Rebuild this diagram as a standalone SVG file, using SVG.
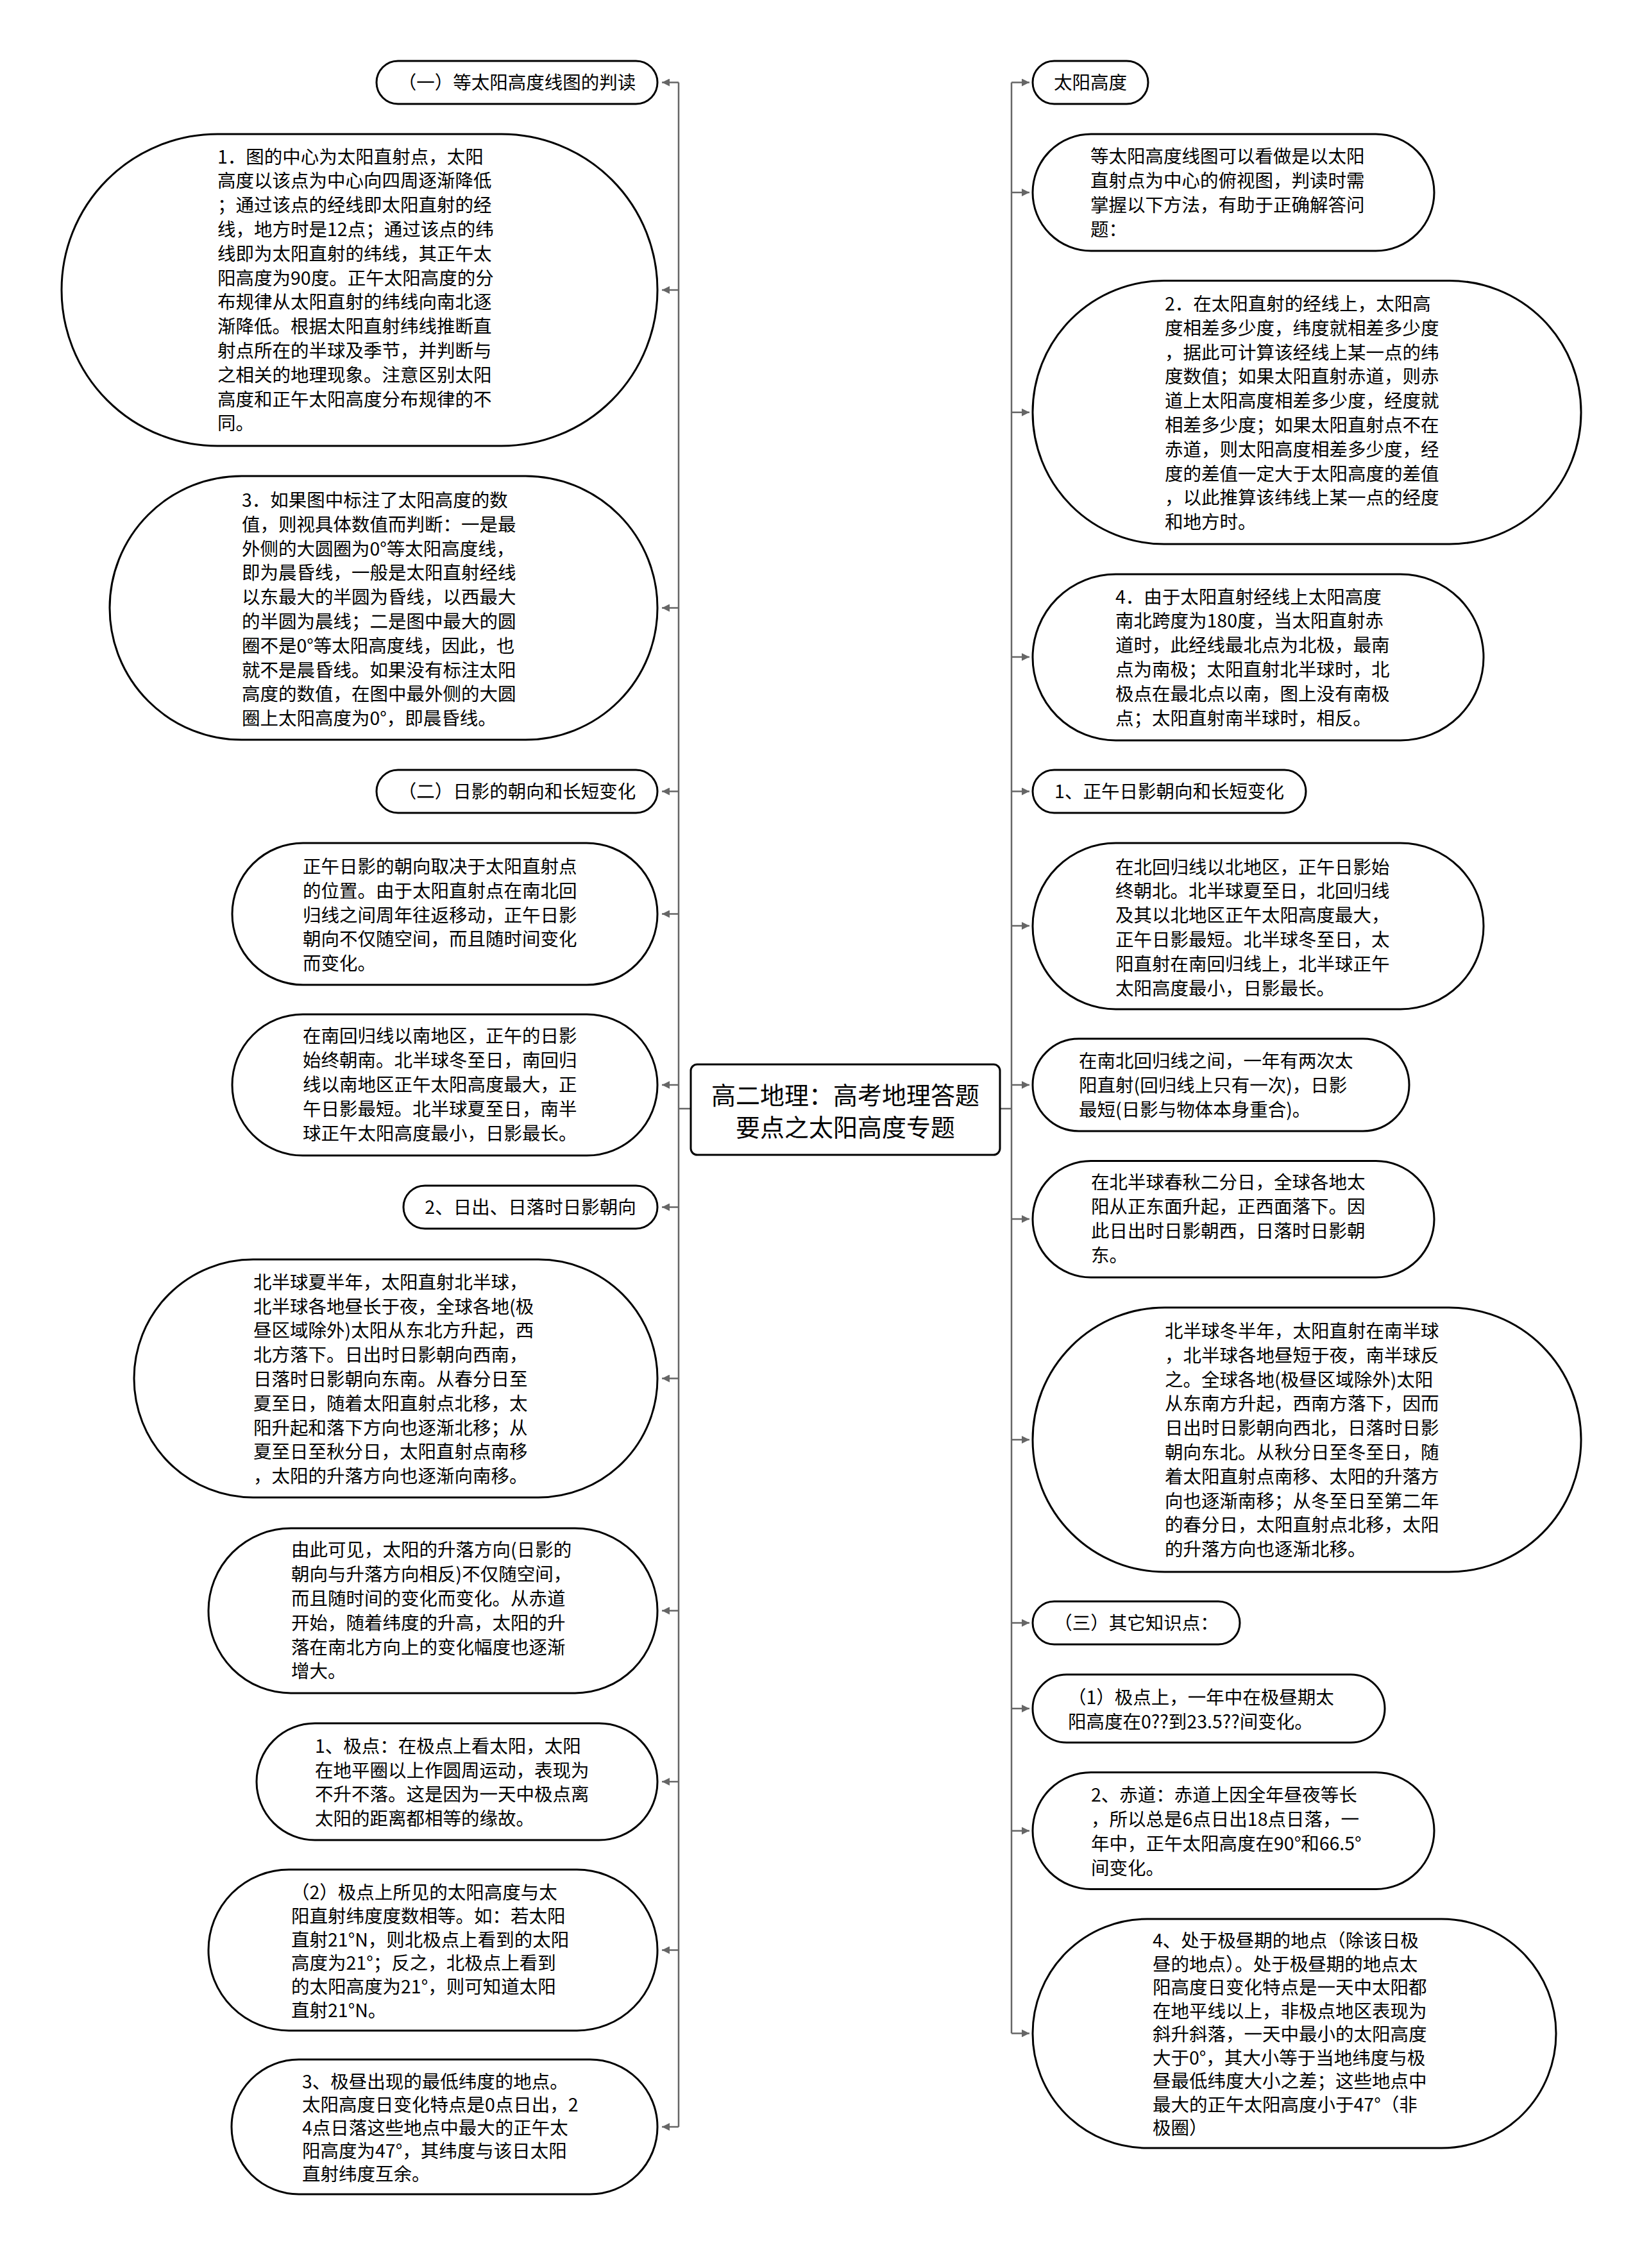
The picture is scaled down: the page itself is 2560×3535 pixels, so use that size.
<svg xmlns="http://www.w3.org/2000/svg" width="2560" height="3535" viewBox="0 0 2560 3535">
<defs>
<style>
.node{fill:#fff;stroke:#000;stroke-width:3}
.t{font-family:"Noto Sans CJK SC","Noto Sans",sans-serif;font-size:28.5px;fill:#000}
.h{text-anchor:middle}
.root{font-family:"Noto Sans CJK SC","Noto Sans",sans-serif;font-size:38px;fill:#000;text-anchor:middle}
.conn{stroke:#666;stroke-width:2.5;fill:none}
</style>
<marker id="arr" markerUnits="userSpaceOnUse" markerWidth="14" markerHeight="12" refX="12" refY="6" orient="auto">
<path d="M0,0 L12,6 L0,12 z" fill="#666"/>
</marker>
</defs>
<rect width="2560" height="3535" fill="#fff"/>

<g id="connectors">
<path class="conn" d="M1077,1728 H1058 M1058,128.5 V3315"/>
<path class="conn" d="M1559,1728 H1577 M1577,128.5 V3169.3"/>
<path class="conn" marker-end="url(#arr)" d="M1058,128.5 H1032"/>
<path class="conn" marker-end="url(#arr)" d="M1058,452 H1032"/>
<path class="conn" marker-end="url(#arr)" d="M1058,947.5 H1032"/>
<path class="conn" marker-end="url(#arr)" d="M1058,1233.5 H1032"/>
<path class="conn" marker-end="url(#arr)" d="M1058,1424.5 H1032"/>
<path class="conn" marker-end="url(#arr)" d="M1058,1691 H1032"/>
<path class="conn" marker-end="url(#arr)" d="M1058,1881.5 H1032"/>
<path class="conn" marker-end="url(#arr)" d="M1058,2148.5 H1032"/>
<path class="conn" marker-end="url(#arr)" d="M1058,2510.5 H1032"/>
<path class="conn" marker-end="url(#arr)" d="M1058,2777 H1032"/>
<path class="conn" marker-end="url(#arr)" d="M1058,3039.5 H1032"/>
<path class="conn" marker-end="url(#arr)" d="M1058,3315 H1032"/>
<path class="conn" marker-end="url(#arr)" d="M1577,128.5 H1605"/>
<path class="conn" marker-end="url(#arr)" d="M1577,300 H1605"/>
<path class="conn" marker-end="url(#arr)" d="M1577,642.7 H1605"/>
<path class="conn" marker-end="url(#arr)" d="M1577,1024 H1605"/>
<path class="conn" marker-end="url(#arr)" d="M1577,1233.5 H1605"/>
<path class="conn" marker-end="url(#arr)" d="M1577,1443 H1605"/>
<path class="conn" marker-end="url(#arr)" d="M1577,1691 H1605"/>
<path class="conn" marker-end="url(#arr)" d="M1577,1900 H1605"/>
<path class="conn" marker-end="url(#arr)" d="M1577,2244 H1605"/>
<path class="conn" marker-end="url(#arr)" d="M1577,2529.5 H1605"/>
<path class="conn" marker-end="url(#arr)" d="M1577,2663 H1605"/>
<path class="conn" marker-end="url(#arr)" d="M1577,2853.6 H1605"/>
<path class="conn" marker-end="url(#arr)" d="M1577,3169.3 H1605"/>
</g>

<g id="root">
<rect class="node" x="1077" y="1659" width="482" height="141" rx="10"/>
<text class="root" x="1318" y="1720.5">高二地理：高考地理答题</text>
<text class="root" x="1318" y="1770.5">要点之太阳高度专题</text>
</g>

<g id="L1">
<rect class="node" x="587" y="95" width="438" height="67" rx="33.5"/>
<text class="t h" x="806" y="138.5">（一）等太阳高度线图的判读</text>
</g>

<g id="L2">
<rect class="node" x="96" y="209" width="929" height="486" rx="243"/>
<text class="t" y="254.6">
<tspan x="339">1．图的中心为太阳直射点，太阳</tspan>
<tspan x="339" dy="37.8">高度以该点为中心向四周逐渐降低</tspan>
<tspan x="339" dy="37.8">；通过该点的经线即太阳直射的经</tspan>
<tspan x="339" dy="37.8">线，地方时是12点；通过该点的纬</tspan>
<tspan x="339" dy="37.8">线即为太阳直射的纬线，其正午太</tspan>
<tspan x="339" dy="37.8">阳高度为90度。正午太阳高度的分</tspan>
<tspan x="339" dy="37.8">布规律从太阳直射的纬线向南北逐</tspan>
<tspan x="339" dy="37.8">渐降低。根据太阳直射纬线推断直</tspan>
<tspan x="339" dy="37.8">射点所在的半球及季节，并判断与</tspan>
<tspan x="339" dy="37.8">之相关的地理现象。注意区别太阳</tspan>
<tspan x="339" dy="37.8">高度和正午太阳高度分布规律的不</tspan>
<tspan x="339" dy="37.8">同。</tspan>
</text>
</g>

<g id="L3">
<rect class="node" x="171" y="742" width="854" height="411" rx="205.5"/>
<text class="t" y="789.9">
<tspan x="377">3．如果图中标注了太阳高度的数</tspan>
<tspan x="377" dy="37.8">值，则视具体数值而判断：一是最</tspan>
<tspan x="377" dy="37.8">外侧的大圆圈为0°等太阳高度线，</tspan>
<tspan x="377" dy="37.8">即为晨昏线，一般是太阳直射经线</tspan>
<tspan x="377" dy="37.8">以东最大的半圆为昏线，以西最大</tspan>
<tspan x="377" dy="37.8">的半圆为晨线；二是图中最大的圆</tspan>
<tspan x="377" dy="37.8">圈不是0°等太阳高度线，因此，也</tspan>
<tspan x="377" dy="37.8">就不是晨昏线。如果没有标注太阳</tspan>
<tspan x="377" dy="37.8">高度的数值，在图中最外侧的大圆</tspan>
<tspan x="377" dy="37.8">圈上太阳高度为0°，即晨昏线。</tspan>
</text>
</g>

<g id="L4">
<rect class="node" x="587" y="1200" width="438" height="67" rx="33.5"/>
<text class="t h" x="806" y="1243.5">（二）日影的朝向和长短变化</text>
</g>

<g id="L5">
<rect class="node" x="362" y="1314" width="663" height="221" rx="110.5"/>
<text class="t" y="1360.9">
<tspan x="472">正午日影的朝向取决于太阳直射点</tspan>
<tspan x="472" dy="37.8">的位置。由于太阳直射点在南北回</tspan>
<tspan x="472" dy="37.8">归线之间周年往返移动，正午日影</tspan>
<tspan x="472" dy="37.8">朝向不仅随空间，而且随时间变化</tspan>
<tspan x="472" dy="37.8">而变化。</tspan>
</text>
</g>

<g id="L6">
<rect class="node" x="362" y="1581" width="663" height="220" rx="110"/>
<text class="t" y="1625.4">
<tspan x="472">在南回归线以南地区，正午的日影</tspan>
<tspan x="472" dy="37.8">始终朝南。北半球冬至日，南回归</tspan>
<tspan x="472" dy="37.8">线以南地区正午太阳高度最大，正</tspan>
<tspan x="472" dy="37.8">午日影最短。北半球夏至日，南半</tspan>
<tspan x="472" dy="37.8">球正午太阳高度最小，日影最长。</tspan>
</text>
</g>

<g id="L7">
<rect class="node" x="629" y="1848" width="396" height="67" rx="33.5"/>
<text class="t h" x="827" y="1891.5">2、日出、日落时日影朝向</text>
</g>

<g id="L8">
<rect class="node" x="209" y="1963" width="816" height="371" rx="185.5"/>
<text class="t" y="2008.8">
<tspan x="395">北半球夏半年，太阳直射北半球，</tspan>
<tspan x="395" dy="37.8">北半球各地昼长于夜，全球各地(极</tspan>
<tspan x="395" dy="37.8">昼区域除外)太阳从东北方升起，西</tspan>
<tspan x="395" dy="37.8">北方落下。日出时日影朝向西南，</tspan>
<tspan x="395" dy="37.8">日落时日影朝向东南。从春分日至</tspan>
<tspan x="395" dy="37.8">夏至日，随着太阳直射点北移，太</tspan>
<tspan x="395" dy="37.8">阳升起和落下方向也逐渐北移；从</tspan>
<tspan x="395" dy="37.8">夏至日至秋分日，太阳直射点南移</tspan>
<tspan x="395" dy="37.8">，太阳的升落方向也逐渐向南移。</tspan>
</text>
</g>

<g id="L9">
<rect class="node" x="325" y="2382" width="700" height="257" rx="128.5"/>
<text class="t" y="2426.3">
<tspan x="454">由此可见，太阳的升落方向(日影的</tspan>
<tspan x="454" dy="37.8">朝向与升落方向相反)不仅随空间，</tspan>
<tspan x="454" dy="37.8">而且随时间的变化而变化。从赤道</tspan>
<tspan x="454" dy="37.8">开始，随着纬度的升高，太阳的升</tspan>
<tspan x="454" dy="37.8">落在南北方向上的变化幅度也逐渐</tspan>
<tspan x="454" dy="37.8">增大。</tspan>
</text>
</g>

<g id="L10">
<rect class="node" x="400" y="2686" width="625" height="182" rx="91"/>
<text class="t" y="2731.8">
<tspan x="491">1、极点：在极点上看太阳，太阳</tspan>
<tspan x="491" dy="37.8">在地平圈以上作圆周运动，表现为</tspan>
<tspan x="491" dy="37.8">不升不落。这是因为一天中极点离</tspan>
<tspan x="491" dy="37.8">太阳的距离都相等的缘故。</tspan>
</text>
</g>

<g id="L11">
<rect class="node" x="325" y="2914" width="700" height="251" rx="125.5"/>
<text class="t" y="2960">
<tspan x="454">（2）极点上所见的太阳高度与太</tspan>
<tspan x="454" dy="36.8">阳直射纬度度数相等。如：若太阳</tspan>
<tspan x="454" dy="36.8">直射21°N，则北极点上看到的太阳</tspan>
<tspan x="454" dy="36.8">高度为21°；反之，北极点上看到</tspan>
<tspan x="454" dy="36.8">的太阳高度为21°，则可知道太阳</tspan>
<tspan x="454" dy="36.8">直射21°N。</tspan>
</text>
</g>

<g id="L12">
<rect class="node" x="361" y="3210" width="664" height="210" rx="105"/>
<text class="t" y="3255">
<tspan x="471">3、极昼出现的最低纬度的地点。</tspan>
<tspan x="471" dy="36">太阳高度日变化特点是0点日出，2</tspan>
<tspan x="471" dy="36">4点日落这些地点中最大的正午太</tspan>
<tspan x="471" dy="36">阳高度为47°，其纬度与该日太阳</tspan>
<tspan x="471" dy="36">直射纬度互余。</tspan>
</text>
</g>

<g id="R1">
<rect class="node" x="1610" y="95" width="180" height="67" rx="33.5"/>
<text class="t h" x="1700" y="138.5">太阳高度</text>
</g>

<g id="R2">
<rect class="node" x="1610" y="209" width="626" height="182" rx="91"/>
<text class="t" y="254.3">
<tspan x="1700">等太阳高度线图可以看做是以太阳</tspan>
<tspan x="1700" dy="37.8">直射点为中心的俯视图，判读时需</tspan>
<tspan x="1700" dy="37.8">掌握以下方法，有助于正确解答问</tspan>
<tspan x="1700" dy="37.8">题：</tspan>
</text>
</g>

<g id="R3">
<rect class="node" x="1610" y="437.5" width="855" height="410.5" rx="205"/>
<text class="t" y="483.9">
<tspan x="1816">2．在太阳直射的经线上，太阳高</tspan>
<tspan x="1816" dy="37.8">度相差多少度，纬度就相差多少度</tspan>
<tspan x="1816" dy="37.8">，据此可计算该经线上某一点的纬</tspan>
<tspan x="1816" dy="37.8">度数值；如果太阳直射赤道，则赤</tspan>
<tspan x="1816" dy="37.8">道上太阳高度相差多少度，经度就</tspan>
<tspan x="1816" dy="37.8">相差多少度；如果太阳直射点不在</tspan>
<tspan x="1816" dy="37.8">赤道，则太阳高度相差多少度，经</tspan>
<tspan x="1816" dy="37.8">度的差值一定大于太阳高度的差值</tspan>
<tspan x="1816" dy="37.8">，以此推算该纬线上某一点的经度</tspan>
<tspan x="1816" dy="37.8">和地方时。</tspan>
</text>
</g>

<g id="R4">
<rect class="node" x="1610" y="895" width="703" height="259" rx="129.5"/>
<text class="t" y="940.5">
<tspan x="1739">4．由于太阳直射经线上太阳高度</tspan>
<tspan x="1739" dy="37.8">南北跨度为180度，当太阳直射赤</tspan>
<tspan x="1739" dy="37.8">道时，此经线最北点为北极，最南</tspan>
<tspan x="1739" dy="37.8">点为南极；太阳直射北半球时，北</tspan>
<tspan x="1739" dy="37.8">极点在最北点以南，图上没有南极</tspan>
<tspan x="1739" dy="37.8">点；太阳直射南半球时，相反。</tspan>
</text>
</g>

<g id="R5">
<rect class="node" x="1610" y="1200" width="426" height="67" rx="33.5"/>
<text class="t h" x="1823" y="1243.5">1、正午日影朝向和长短变化</text>
</g>

<g id="R6">
<rect class="node" x="1610" y="1314" width="703" height="259" rx="129.5"/>
<text class="t" y="1361.5">
<tspan x="1739">在北回归线以北地区，正午日影始</tspan>
<tspan x="1739" dy="37.8">终朝北。北半球夏至日，北回归线</tspan>
<tspan x="1739" dy="37.8">及其以北地区正午太阳高度最大，</tspan>
<tspan x="1739" dy="37.8">正午日影最短。北半球冬至日，太</tspan>
<tspan x="1739" dy="37.8">阳直射在南回归线上，北半球正午</tspan>
<tspan x="1739" dy="37.8">太阳高度最小，日影最长。</tspan>
</text>
</g>

<g id="R7">
<rect class="node" x="1610" y="1619" width="587" height="144" rx="72"/>
<text class="t" y="1664.2">
<tspan x="1682">在南北回归线之间，一年有两次太</tspan>
<tspan x="1682" dy="37.8">阳直射(回归线上只有一次)，日影</tspan>
<tspan x="1682" dy="37.8">最短(日影与物体本身重合)。</tspan>
</text>
</g>

<g id="R8">
<rect class="node" x="1610" y="1809.5" width="626" height="181.5" rx="90.75"/>
<text class="t" y="1853.3">
<tspan x="1701">在北半球春秋二分日，全球各地太</tspan>
<tspan x="1701" dy="37.8">阳从正东面升起，正西面落下。因</tspan>
<tspan x="1701" dy="37.8">此日出时日影朝西，日落时日影朝</tspan>
<tspan x="1701" dy="37.8">东。</tspan>
</text>
</g>

<g id="R9">
<rect class="node" x="1610" y="2038" width="855" height="412" rx="206"/>
<text class="t" y="2084.9">
<tspan x="1816">北半球冬半年，太阳直射在南半球</tspan>
<tspan x="1816" dy="37.8">，北半球各地昼短于夜，南半球反</tspan>
<tspan x="1816" dy="37.8">之。全球各地(极昼区域除外)太阳</tspan>
<tspan x="1816" dy="37.8">从东南方升起，西南方落下，因而</tspan>
<tspan x="1816" dy="37.8">日出时日影朝向西北，日落时日影</tspan>
<tspan x="1816" dy="37.8">朝向东北。从秋分日至冬至日，随</tspan>
<tspan x="1816" dy="37.8">着太阳直射点南移、太阳的升落方</tspan>
<tspan x="1816" dy="37.8">向也逐渐南移；从冬至日至第二年</tspan>
<tspan x="1816" dy="37.8">的春分日，太阳直射点北移，太阳</tspan>
<tspan x="1816" dy="37.8">的升落方向也逐渐北移。</tspan>
</text>
</g>

<g id="R10">
<rect class="node" x="1610" y="2496" width="323" height="67" rx="33.5"/>
<text class="t h" x="1771.5" y="2539.5">（三）其它知识点：</text>
</g>

<g id="R11">
<rect class="node" x="1610" y="2610" width="549" height="106" rx="53"/>
<text class="t" y="2656.1">
<tspan x="1665">（1）极点上，一年中在极昼期太</tspan>
<tspan x="1665" dy="37.8">阳高度在0??到23.5??间变化。</tspan>
</text>
</g>

<g id="R12">
<rect class="node" x="1610" y="2762.5" width="626" height="182" rx="91"/>
<text class="t" y="2808.3">
<tspan x="1701">2、赤道：赤道上因全年昼夜等长</tspan>
<tspan x="1701" dy="37.8">，所以总是6点日出18点日落，一</tspan>
<tspan x="1701" dy="37.8">年中，正午太阳高度在90°和66.5°</tspan>
<tspan x="1701" dy="37.8">间变化。</tspan>
</text>
</g>

<g id="R13">
<rect class="node" x="1610" y="2991" width="816" height="357" rx="178.5"/>
<text class="t" y="3035">
<tspan x="1797">4、处于极昼期的地点（除该日极</tspan>
<tspan x="1797" dy="36.5">昼的地点）。处于极昼期的地点太</tspan>
<tspan x="1797" dy="36.5">阳高度日变化特点是一天中太阳都</tspan>
<tspan x="1797" dy="36.5">在地平线以上，非极点地区表现为</tspan>
<tspan x="1797" dy="36.5">斜升斜落，一天中最小的太阳高度</tspan>
<tspan x="1797" dy="36.5">大于0°，其大小等于当地纬度与极</tspan>
<tspan x="1797" dy="36.5">昼最低纬度大小之差；这些地点中</tspan>
<tspan x="1797" dy="36.5">最大的正午太阳高度小于47°（非</tspan>
<tspan x="1797" dy="36.5">极圈）</tspan>
</text>
</g>
</svg>
